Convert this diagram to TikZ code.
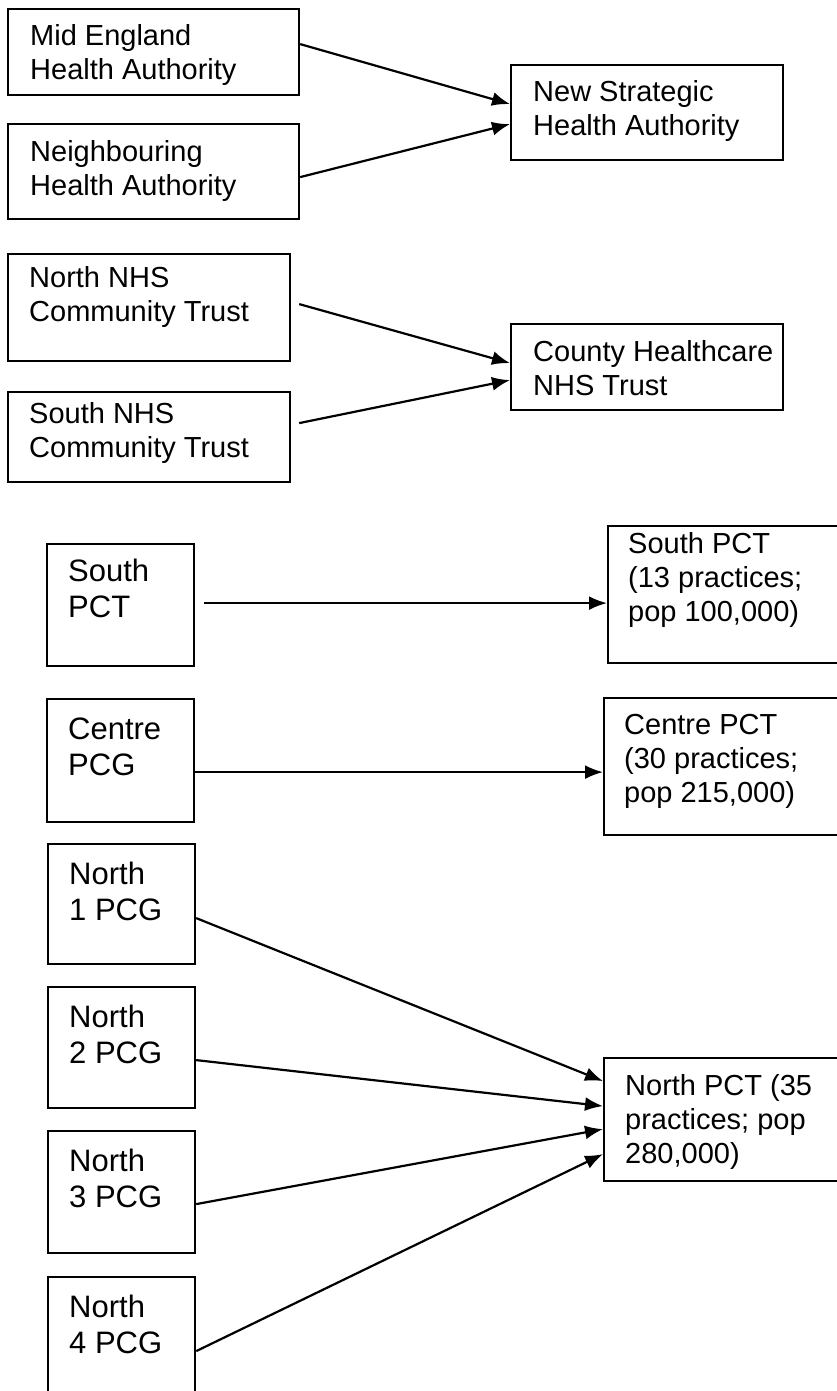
\documentclass[tikz,border=0pt]{standalone}
\usepackage{fontspec}
\setmainfont{Liberation Sans}
\usetikzlibrary{arrows.meta}
\begin{document}
\begin{tikzpicture}[x=1pt,y=-1pt,
  box/.style={draw, line width=2.2pt, inner sep=0pt, anchor=north west},
  lbl/.style={anchor=base west, inner sep=0pt, align=left, font=\fontsize{29}{34}\selectfont},
  lblb/.style={anchor=base west, inner sep=0pt, align=left, font=\fontsize{31}{36}\selectfont},
  conn/.style={line width=2.2pt, -{Latex[length=18pt,width=14pt]}}]
\useasboundingbox (0,0) rectangle (836,1391);
% top group (anchors at the last line's baseline)
\node[box, minimum width=291pt, minimum height=86pt] (mid) at (7,8) {};
\node[lbl] (midt) at (30,80) {Mid England\\Health Authority};
\node[box, minimum width=291pt, minimum height=95pt] (nei) at (7,123) {};
\node[lbl] (neit) at (30,196) {Neighbouring\\Health Authority};
\node[box, minimum width=272pt, minimum height=95pt] (nsha) at (510,64) {};
\node[lbl] (nshat) at (533,136) {New Strategic\\Health Authority};
% second group
\node[box, minimum width=282pt, minimum height=107pt] (nnhs) at (7,253) {};
\node[lbl] (nnhst) at (29,321) {North NHS\\Community Trust};
\node[box, minimum width=282pt, minimum height=90pt] (snhs) at (7,391) {};
\node[lbl] (snhst) at (29,457) {South NHS\\Community Trust};
\node[box, minimum width=272pt, minimum height=86pt] (chnt) at (510,323) {};
\node[lbl] (chntt) at (533,395) {County Healthcare\\NHS Trust};
% left PCG boxes
\node[box, minimum width=147pt, minimum height=122pt] (spctl) at (46,543) {};
\node[lblb] (spctlt) at (68,617) {South\\PCT};
\node[box, minimum width=147pt, minimum height=123pt] (cpcg) at (46,698) {};
\node[lblb] (cpcgt) at (68,775) {Centre\\PCG};
\node[box, minimum width=147pt, minimum height=120pt] (n1) at (47,843) {};
\node[lblb] (n1t) at (69,920) {North\\1 PCG};
\node[box, minimum width=147pt, minimum height=121pt] (n2) at (47,986) {};
\node[lblb] (n2t) at (69,1063) {North\\2 PCG};
\node[box, minimum width=147pt, minimum height=122pt] (n3) at (47,1130) {};
\node[lblb] (n3t) at (69,1207) {North\\3 PCG};
\node[box, minimum width=147pt, minimum height=130pt] (n4) at (47,1276) {};
\node[lblb] (n4t) at (69,1353) {North\\4 PCG};
% right PCT boxes
\node[box, minimum width=245pt, minimum height=137pt] (spctr) at (607,525) {};
\node[lbl] (spctrt) at (628,621) {South PCT\\(13 practices;\\pop 100,000)};
\node[box, minimum width=245pt, minimum height=137pt] (cpct) at (603,697) {};
\node[lbl] (cpctt) at (624,802) {Centre PCT\\(30 practices;\\pop 215,000)};
\node[box, minimum width=245pt, minimum height=123pt] (npct) at (603,1057) {};
\node[lbl] (npctt) at (625,1163) {North PCT (35\\practices; pop\\280,000)};
% connectors
\draw[conn] ([yshift=8pt]mid.east) -- ([yshift=8.5pt]nsha.west);
\draw[conn] ([yshift=-5.5pt]nei.east) -- ([yshift=-11.5pt]nsha.west);
\draw[conn] ([xshift=8pt,yshift=3.5pt]nnhs.east) -- ([yshift=4pt]chnt.west);
\draw[conn] ([xshift=8pt,yshift=14pt]snhs.east) -- ([yshift=-13pt]chnt.west);
\draw[conn] ([xshift=9pt,yshift=2pt]spctl.east) -- ([yshift=-8.5pt]spctr.west);
\draw[conn] ([yshift=-11.5pt]cpcg.east) -- ([yshift=-5.5pt]cpct.west);
\draw[conn] ([yshift=-14pt]n1.east) -- ([yshift=38.5pt]npct.west);
\draw[conn] ([yshift=-12.5pt]n2.east) -- ([yshift=13.5pt]npct.west);
\draw[conn] ([yshift=-12pt]n3.east) -- ([yshift=-9.5pt]npct.west);
\draw[conn] ([yshift=-9pt]n4.east) -- ([yshift=-34.5pt]npct.west);
\end{tikzpicture}
\end{document}
